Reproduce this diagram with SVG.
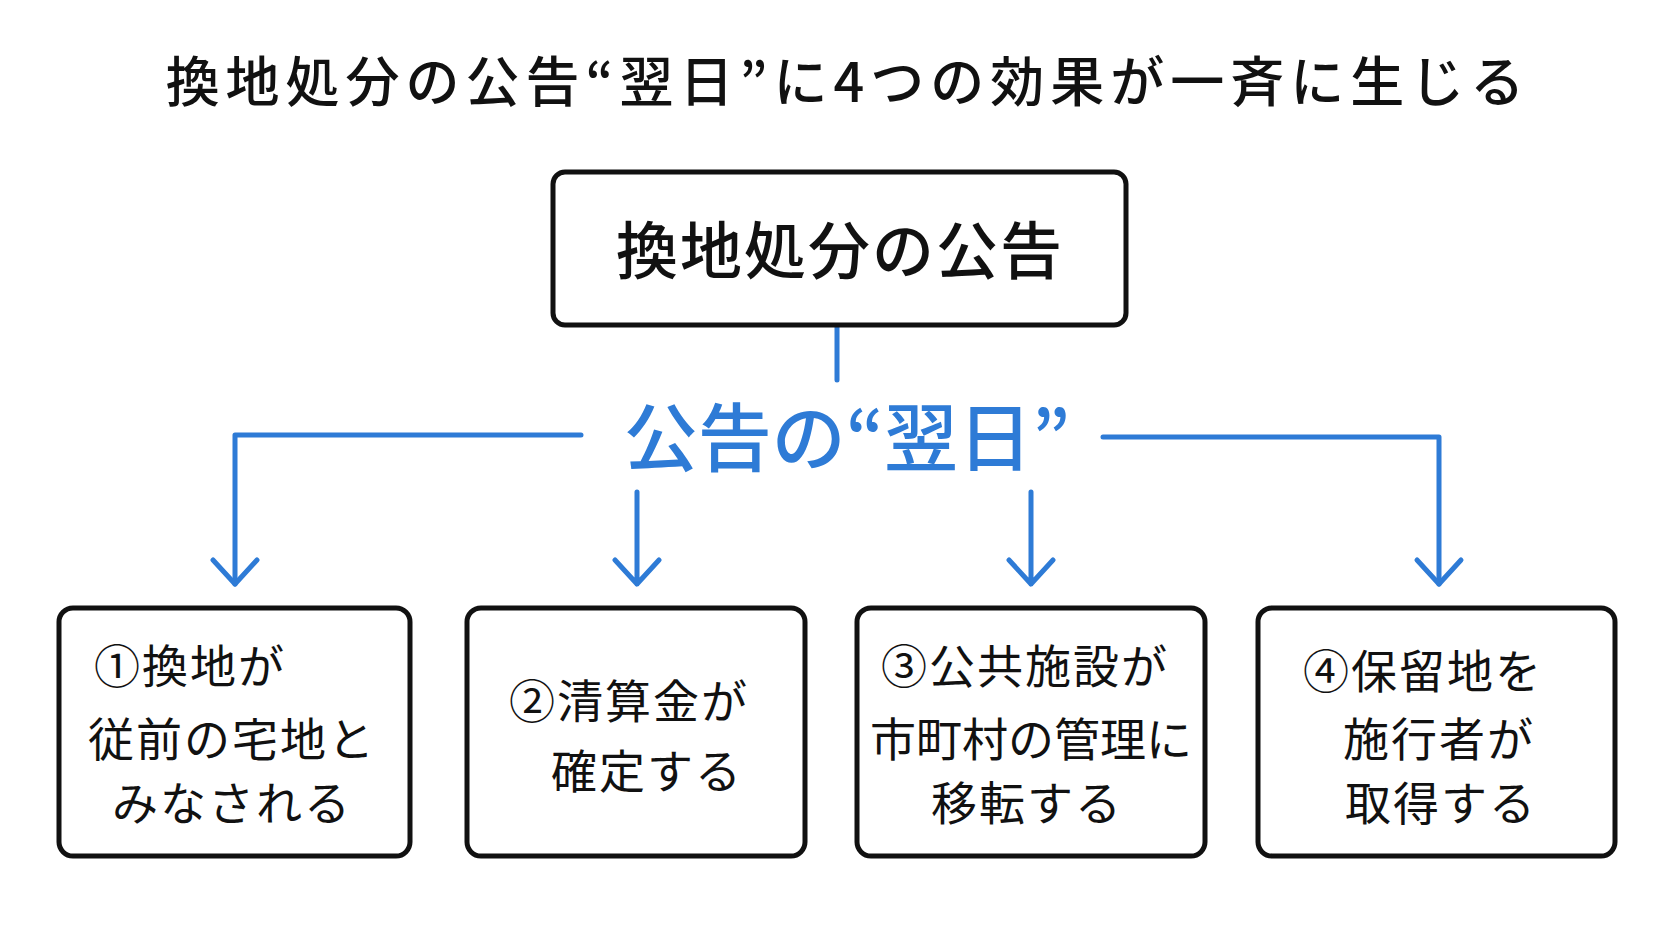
<svg xmlns="http://www.w3.org/2000/svg" width="1672" height="941" viewBox="0 0 1672 941">
<style>
text{font-family:"Noto Sans CJK JP","Noto Sans",sans-serif;text-anchor:middle;dominant-baseline:central;fill:#111}
.box{fill:#fff;stroke:#111;stroke-width:5}
.t{font-size:46px;letter-spacing:2px}
.c{fill:none;stroke:#2e7bd6;stroke-width:5;stroke-linecap:round;stroke-linejoin:round}
</style>
<rect width="1672" height="941" fill="#fff"/>
<text x="848" y="78" font-size="54" font-weight="500" letter-spacing="6">換地処分の公告“翌日”に4つの効果が一斉に生じる</text>
<g id="connectors">
<line class="c" x1="837" y1="327" x2="837" y2="380"/>
<path class="c" d="M581 435 H235 V584"/><path class="c" d="M235 584 l-22 -24 M235 584 l22 -24"/>
<path class="c" d="M1103 437 H1439 V584"/><path class="c" d="M1439 584 l-22 -24 M1439 584 l22 -24"/>
<path class="c" d="M637 492 V584 M615 560 L637 584 L659 560"/>
<path class="c" d="M1031 492 V584 M1009 560 L1031 584 L1053 560"/>
<text x="847" y="432" font-size="74" font-weight="500" style="fill:#2e7bd6">公告の“翌日”</text>
</g>
<g id="top"><rect class="box" x="553" y="172" width="573" height="153" rx="12"/><text x="840" y="247" font-size="62" font-weight="500" letter-spacing="2">換地処分の公告</text></g>
<g id="n1"><rect class="box" x="59" y="608" width="351" height="248" rx="14"/><text class="t" x="190" y="663">①換地が</text><text class="t" x="232" y="736">従前の宅地と</text><text class="t" x="232" y="800">みなされる</text></g>
<g id="n2"><rect class="box" x="467" y="608" width="338" height="248" rx="14"/><text class="t" x="629" y="698">②清算金が</text><text class="t" x="647" y="768">確定する</text></g>
<g id="n3"><rect class="box" x="857" y="608" width="348" height="248" rx="14"/><text class="t" x="1025" y="663">③公共施設が</text><text class="t" x="1031" y="736" style="letter-spacing:0">市町村の管理に</text><text class="t" x="1027" y="800">移転する</text></g>
<g id="n4"><rect class="box" x="1258" y="608" width="357" height="248" rx="14"/><text class="t" x="1423" y="668">④保留地を</text><text class="t" x="1439" y="736">施行者が</text><text class="t" x="1441" y="800">取得する</text></g>
</svg>
